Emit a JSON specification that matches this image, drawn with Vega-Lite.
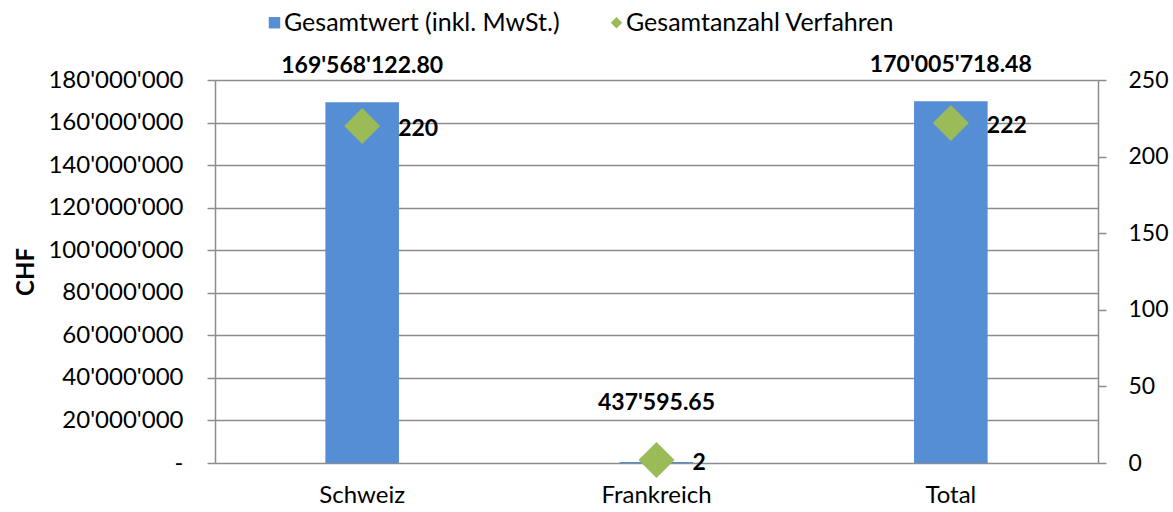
{
  "$schema": "https://vega.github.io/schema/vega-lite/v6.json",
  "autosize": {"type": "none"},
  "width": 883,
  "height": 383,
  "padding": {"left": 215, "top": 80, "right": 75, "bottom": 49},
  "background": "white",
  "config": {
    "font": "Lato",
    "locale": {"number": {"decimal": ".", "thousands": "'", "grouping": [3], "currency": ["", ""]}},
    "view": {"stroke": null},
    "axis": {"labelFont": "Lato", "labelFontSize": 24, "labelColor": "#000000", "domainColor": "#8c8c8c", "domainWidth": 1.5, "tickColor": "#8c8c8c", "tickWidth": 1.5, "gridColor": "#8c8c8c", "gridWidth": 1.5},
    "legend": {"orient": "none", "legendX": 47, "legendY": -70, "direction": "horizontal", "title": null, "labelFont": "Lato", "labelFontSize": 25, "labelColor": "#000000", "labelLimit": 500, "symbolSize": 130, "columnPadding": 44, "labelOffset": -3, "symbolStrokeWidth": 0}
  },
  "data": {"values": [
    {"land": "Schweiz", "wert": 169568122.80, "anzahl": 220},
    {"land": "Frankreich", "wert": 437595.65, "anzahl": 2},
    {"land": "Total", "wert": 170005718.48, "anzahl": 222}
  ]},
  "encoding": {
    "x": {"field": "land", "type": "nominal", "sort": null, "title": null,
      "scale": {"type": "band", "paddingInner": 0.75, "paddingOuter": 0.375},
      "axis": {"labelAngle": 0, "ticks": false, "tickSize": 0, "labelPadding": 20, "domain": false, "grid": false}}
  },
  "layer": [
    {
      "mark": {"type": "bar"},
      "encoding": {
        "y": {"field": "wert", "type": "quantitative",
          "scale": {"domain": [0, 180000000], "nice": false, "zero": true},
          "axis": {"orient": "left", "title": "CHF", "titleFont": "Lato", "titleFontSize": 24, "titleFontWeight": "bold", "titleColor": "#000000", "titlePadding": 9,
            "values": [0, 20000000, 40000000, 60000000, 80000000, 100000000, 120000000, 140000000, 160000000, 180000000],
            "format": ",d", "grid": true, "tickSize": 8, "labelPadding": 24,
            "labelExpr": "datum.value == 0 ? '-' : datum.label"}},
        "color": {"datum": "Gesamtwert (inkl. MwSt.)", "type": "nominal",
          "scale": {"domain": ["Gesamtwert (inkl. MwSt.)", "Gesamtanzahl Verfahren"], "range": ["#558ED5", "#9BBB59"]}}
      }
    },
    {
      "transform": [{"filter": "datum.land != 'Frankreich'"}],
      "mark": {"type": "text", "font": "Lato", "fontSize": 23, "fontWeight": "bold", "color": "#000000", "baseline": "middle", "align": "center", "dy": -36},
      "encoding": {
        "y": {"field": "wert", "type": "quantitative", "scale": {"domain": [0, 180000000], "nice": false}, "axis": null},
        "text": {"field": "wert", "type": "quantitative", "format": ",.2f"}
      }
    },
    {
      "transform": [{"filter": "datum.land == 'Frankreich'"}],
      "mark": {"type": "text", "font": "Lato", "fontSize": 23, "fontWeight": "bold", "color": "#000000", "baseline": "middle", "align": "center", "dy": -59},
      "encoding": {
        "y": {"field": "wert", "type": "quantitative", "scale": {"domain": [0, 180000000], "nice": false}, "axis": null},
        "text": {"field": "wert", "type": "quantitative", "format": ",.2f"}
      }
    },
    {
      "mark": {"type": "point", "filled": true, "opacity": 1, "size": 1296},
      "encoding": {
        "y": {"field": "anzahl", "type": "quantitative",
          "scale": {"domain": [0, 250], "nice": false},
          "axis": {"orient": "right", "title": null, "values": [0, 50, 100, 150, 200, 250], "grid": false, "tickSize": 8, "labelPadding": 22, "labelFontSize": 23}},
        "color": {"datum": "Gesamtanzahl Verfahren", "type": "nominal"},
        "shape": {"datum": "Gesamtanzahl Verfahren", "type": "nominal",
          "scale": {"domain": ["Gesamtwert (inkl. MwSt.)", "Gesamtanzahl Verfahren"], "range": ["square", "diamond"]}}
      }
    },
    {
      "mark": {"type": "text", "font": "Lato", "fontSize": 23, "fontWeight": "bold", "color": "#000000", "baseline": "middle", "align": "left", "dx": 36, "dy": 3},
      "encoding": {
        "y": {"field": "anzahl", "type": "quantitative", "scale": {"domain": [0, 250], "nice": false}, "axis": null},
        "text": {"field": "anzahl", "type": "quantitative"}
      }
    }
  ],
  "resolve": {"scale": {"y": "independent"}}
}
